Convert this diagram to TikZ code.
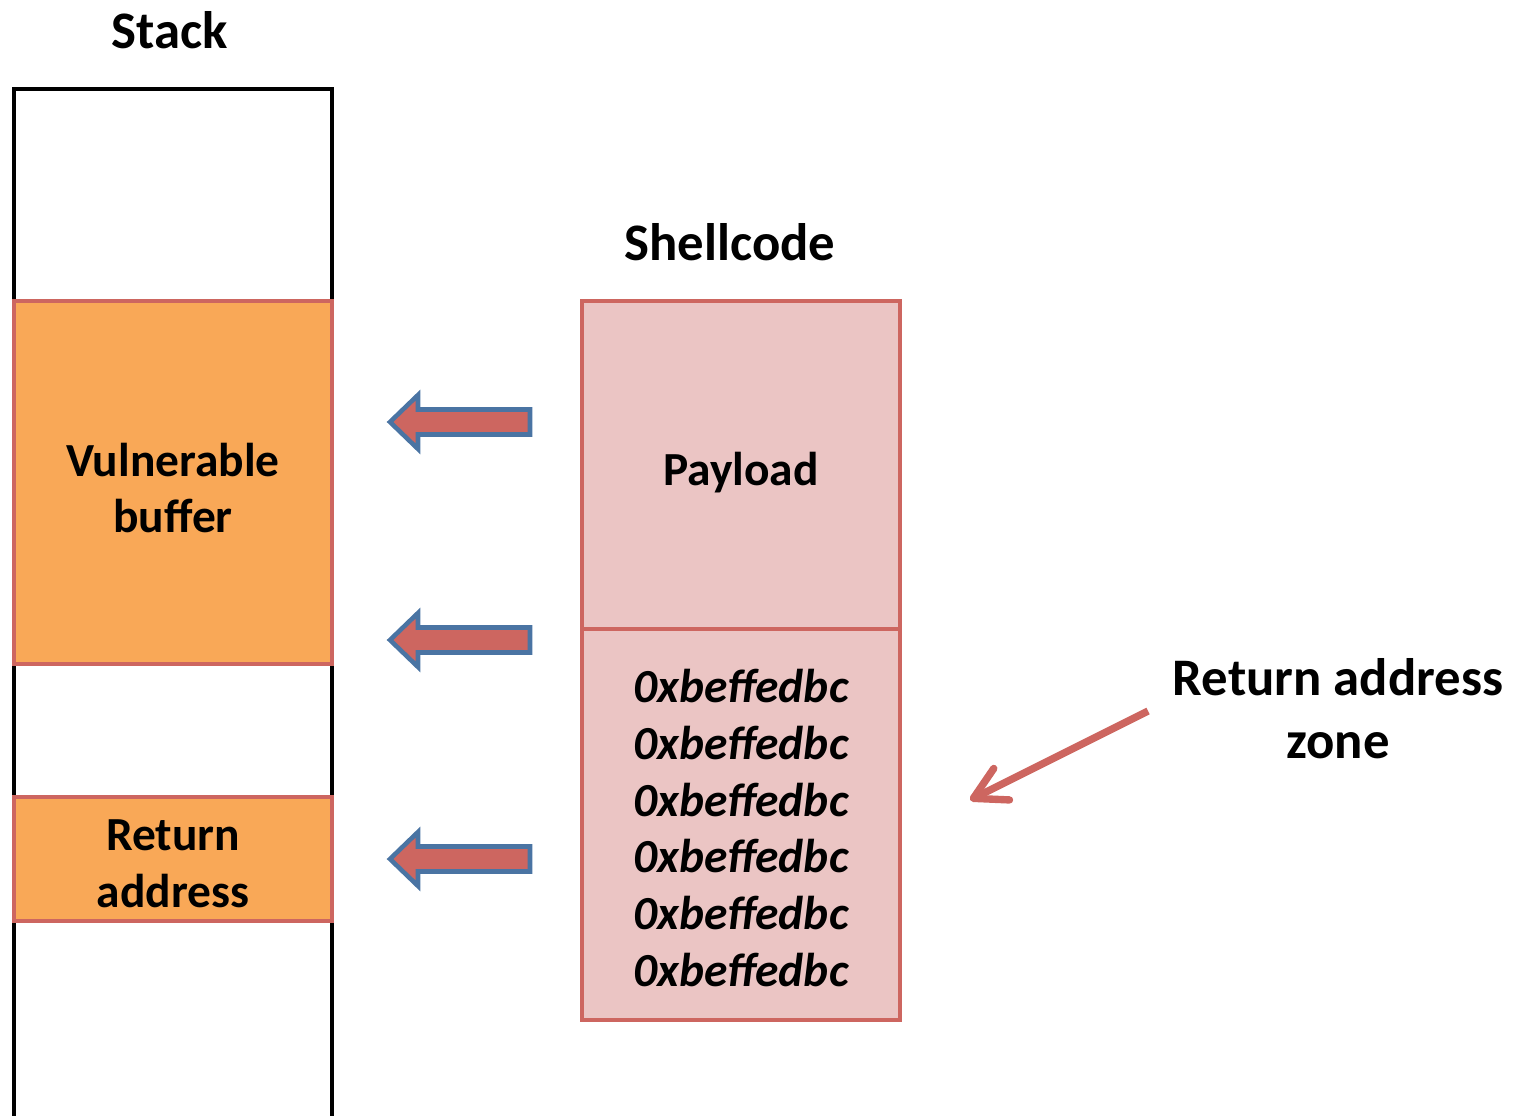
\documentclass[tikz,border=0pt]{standalone}
\usepackage{fontspec}
\setmainfont{Carlito}
\usepackage{tikz}
\usepackage{xcolor}
\usetikzlibrary{arrows.meta}
\definecolor{bufferorange}{HTML}{F9A857}
\definecolor{shellpink}{HTML}{EBC5C4}
\definecolor{edgered}{HTML}{CD6660}
\definecolor{arrowblue}{HTML}{4A74A3}
\tikzset{%
  tipZ/.tip={Straight Barb[length=9pt,width=10pt,line cap=round,line join=round]},
  heading/.style={font=\fontsize{15}{18}\selectfont\bfseries, align=center},
  boxtext/.style={font=\fontsize{13.5}{16.2}\selectfont\bfseries, align=center},
  stackblock/.style={draw=edgered, fill=bufferorange, line width=1.35pt, minimum width=3.18cm, inner sep=0pt},
  shellblock/.style={stackblock, fill=shellpink},
  pusharrow/.style={draw=arrowblue, fill=edgered, line width=1.3pt, line join=miter}
}

\begin{document}
\begin{tikzpicture}[x=0.01cm,y=-0.01cm]
\useasboundingbox (0,0) rectangle (1513,1116);
% the stack
\draw[black, line width=1.35pt] (14,1116) -- (14,89) -- (332,89) -- (332,1116);
\node[heading] (stacktitle) at (170,30) {Stack};
\node[stackblock, minimum height=3.63cm] (vbuf) at (173,482.5) {};
\node[stackblock, minimum height=1.24cm] (retaddr) at (173,859) {};
\node[boxtext] (vbuftext) at (173,488) {Vulnerable\\buffer};
\node[boxtext] (retaddrtext) at (173,864) {Return\\address};
% the shellcode
\node[heading] (shelltitle) at (730,242) {Shellcode};
\node[shellblock, minimum height=3.28cm] (payload) at (741,465) {};
\node[shellblock, minimum height=3.91cm] (retzone) at (741,824.5) {};
\node[boxtext] (payloadtext) at (741,473) {Payload};
\node[boxtext, font=\fontsize{13.5}{16.2}\selectfont\bfseries\itshape] (retzonetext) at (741,828)
  {0xbeffedbc\\0xbeffedbc\\0xbeffedbc\\0xbeffedbc\\0xbeffedbc\\0xbeffedbc};
% copy arrows
\foreach \y in {422,640,859}
  \filldraw[pusharrow] (390,\y) -- (418,\y-27) -- (418,\y-12.5) -- (530,\y-12.5)
    -- (530,\y+12.5) -- (418,\y+12.5) -- (418,\y+27) -- cycle;
% return address zone
\node[heading] (zonelabel) at (1338,709) {Return address\\zone};
\coordinate (zonetail) at (1148,711);
\coordinate (zonetip) at (970,800);
\draw[edgered, line width=2.1pt, -tipZ] (zonetail) -- (zonetip);
\end{tikzpicture}
\end{document}
